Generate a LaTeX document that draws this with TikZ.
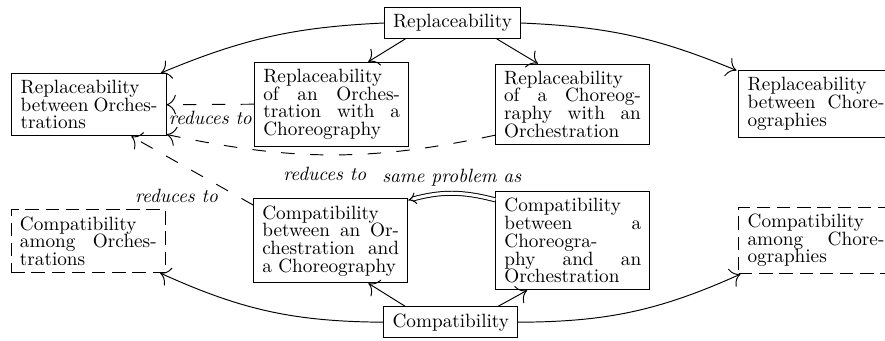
\documentclass[tikz,border=0pt]{standalone}
\usetikzlibrary{arrows.meta,calc}
\begin{document}
\begin{tikzpicture}[x=0.52pt,y=-0.52pt,
  box/.style={draw, line width=0.5pt, rectangle, inner xsep=4.5pt, inner ysep=3.5pt, font=\fontsize{10pt}{9.2pt}\selectfont},
  wbox/.style={box, text width=2.5cm},
  dbox/.style={wbox, dash pattern=on 7pt off 3.5pt},
  arr/.style={-{To[scale=1.8]}, line width=0.5pt},
  darr/.style={arr, dash pattern=on 7pt off 8pt},
  dbl/.style={double, double distance=1.6pt, line width=0.5pt, -{Implies}},
  lab/.style={font=\fontsize{10pt}{12pt}\selectfont\itshape}]
\useasboundingbox (0,0) rectangle (885,340);
\node[box] (rep) at (452.5,23) {Replaceability};
\node[wbox] (RbO) at (89,104.7) {Replaceability\\between\hfill Orches-\\trations};
\node[wbox] (RoC) at (331.7,104.2) {Replaceability\\of\hfill an\hfill Orches-\\tration\hfill with\hfill a\\Choreography};
\node[wbox] (RcO) at (572.5,104.2) {Replaceability\\of\hfill a\hfill Choreog-\\raphy\hfill with\hfill an\\Orchestration};
\node[wbox] (RbC) at (816,104) {Replaceability\\between\hfill Chore-\\ographies};
\node[dbox] (CaO) at (88.3,241.2) {Compatibility\\among\hfill Orches-\\trations};
\node[wbox] (CbOC) at (330.7,240.8) {Compatibility\\between\hfill an\hfill Or-\\chestration\hfill and\\a Choreography};
\node[wbox] (CbCO) at (572.8,240.8) {Compatibility\\between\hfill a\\Choreogra-\\phy\hfill and\hfill an\\Orchestration};
\node[dbox] (CaC) at (816,240.5) {Compatibility\\among\hfill Chore-\\ographies};
\node[box] (comp) at (450.8,322.2) {Compatibility};

\draw[arr] (rep.west) to[bend right=10] ([xshift=-3pt]RbO.north east);
\draw[arr] (rep.east) to[bend left=10] ([xshift=-1pt]RbC.north west);
\draw[arr] ([xshift=-24.5pt]rep.south) -- ([xshift=19pt]RoC.north);
\draw[arr] ([xshift=23pt]rep.south) -- ([xshift=-18pt]RcO.north);
\draw[darr] (RoC.west) -- node[lab,below]{reduces to} (RbO.east);
\draw[darr] ([yshift=5pt]RcO.south west) to[out=192,in=-12] node[lab,pos=0.52,below=3pt]{reduces to} ([yshift=1pt]RbO.south east);
\draw[darr] ([yshift=-3.5pt]CbOC.north west) -- node[lab,pos=0.27,anchor=north east,inner sep=1pt]{reduces to} ([xshift=22pt]RbO.south);
\draw[dbl] ([yshift=-4.5pt]CbCO.north west) to[bend right=15] node[lab,above]{same problem as} ([yshift=-1pt]CbOC.north east);
\draw[arr] (comp.west) to[bend left=12] ([xshift=-3pt]CaO.south east);
\draw[arr] (comp.east) to[bend right=12] ([xshift=1pt]CaC.south west);
\draw[arr] ([xshift=-23.8pt]comp.north) -- ([xshift=19.6pt]CbOC.south);
\draw[arr] ([xshift=24.7pt]comp.north) -- ([xshift=-23.8pt]CbCO.south);
\end{tikzpicture}
\end{document}
